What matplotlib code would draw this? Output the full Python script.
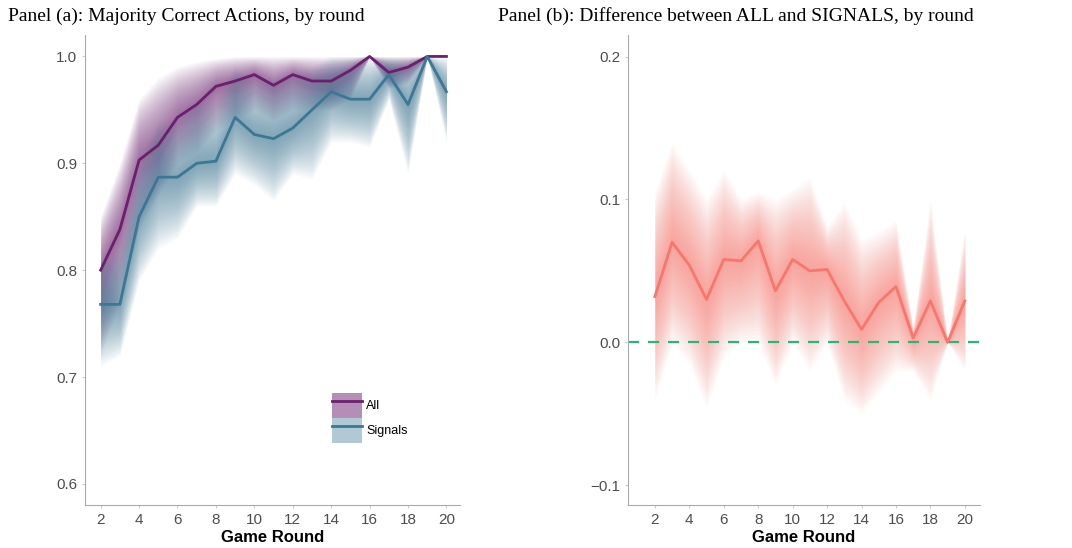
import numpy as np
import matplotlib.pyplot as plt
from matplotlib.patches import Patch
from matplotlib.lines import Line2D

rounds = list(range(2, 21))
all_mean = [0.800, 0.838, 0.903, 0.917, 0.943, 0.955, 0.972, 0.977, 0.983, 0.973,
            0.983, 0.977, 0.977, 0.987, 1.0, 0.985, 0.990, 1.0, 1.0]
all_hi = [0.85, 0.90, 0.96, 0.98, 0.99, 0.995, 0.998, 1.0, 1.0, 1.0,
          1.0, 1.0, 1.0, 1.0, 1.0, 1.0, 1.0, 1.0, 1.0]
all_lo = [0.72, 0.77, 0.84, 0.87, 0.90, 0.91, 0.93, 0.94, 0.95, 0.94,
          0.95, 0.95, 0.95, 0.96, 1.0, 0.97, 0.975, 1.0, 1.0]
sig_mean = [0.768, 0.768, 0.850, 0.887, 0.887, 0.900, 0.902, 0.943, 0.927, 0.923,
            0.933, 0.950, 0.967, 0.960, 0.960, 0.983, 0.955, 1.0, 0.967]
sig_hi = [0.81, 0.82, 0.90, 0.94, 0.94, 0.96, 0.96, 0.99, 0.98, 0.98,
          0.985, 0.99, 1.0, 1.0, 1.0, 1.0, 1.0, 1.0, 1.0]
sig_lo = [0.71, 0.72, 0.79, 0.82, 0.83, 0.86, 0.86, 0.89, 0.88, 0.865,
          0.89, 0.885, 0.92, 0.92, 0.915, 0.96, 0.89, 1.0, 0.92]
diff_mean = [0.032, 0.070, 0.054, 0.030, 0.058, 0.057, 0.071, 0.036, 0.058, 0.050,
             0.051, 0.029, 0.009, 0.028, 0.039, 0.003, 0.029, 0.0, 0.029]
diff_hi = [0.105, 0.14, 0.12, 0.10, 0.12, 0.10, 0.105, 0.10, 0.107, 0.115,
           0.08, 0.098, 0.072, 0.077, 0.085, 0.01, 0.10, 0.0, 0.08]
diff_lo = [-0.04, 0.0, -0.015, -0.045, -0.01, 0.0, 0.0, -0.03, 0.0, -0.02,
           0.0, -0.04, -0.05, -0.035, -0.02, -0.02, -0.04, 0.0, -0.02]

C_ALL = '#6b1f6e'
C_SIG = '#3b7895'
C_DIFF = '#f8766d'

plt.rcParams['font.family'] = ['Liberation Sans']


def fan(ax, x, mid, lo, hi, color):
    mid, lo, hi = np.array(mid), np.array(lo), np.array(hi)
    for f in np.linspace(1.0, 0.05, 25):
        ax.fill_between(x, mid - f * (mid - lo), mid + f * (hi - mid),
                        color=color, alpha=0.035, lw=0)


def style(ax):
    for s in ['top', 'right']:
        ax.spines[s].set_visible(False)
    for s in ['left', 'bottom']:
        ax.spines[s].set_color('#aaaaaa')
    ax.tick_params(colors='#cccccc', labelcolor='#4d4d4d', labelsize=11, length=2)
    ax.set_xticks(range(2, 21, 2))
    ax.set_xlabel('Game Round', fontsize=12, fontweight='bold', labelpad=2)


fig = plt.figure(figsize=(10.72, 5.48), dpi=100)
ax1 = fig.add_axes([0.079, 0.078, 0.350, 0.858])
ax2 = fig.add_axes([0.586, 0.078, 0.328, 0.858])

fan(ax1, rounds, all_mean, all_lo, all_hi, C_ALL)
fan(ax1, rounds, sig_mean, sig_lo, sig_hi, C_SIG)
ax1.plot(rounds, all_mean, color=C_ALL, lw=2.0)
ax1.plot(rounds, sig_mean, color=C_SIG, lw=2.0)
ax1.set_xlim(1.17, 20.7)
ax1.set_ylim(0.58, 1.02)
ax1.set_yticks([0.6, 0.7, 0.8, 0.9, 1.0])
style(ax1)
handles = [(Patch(color=C_ALL, alpha=0.5, lw=0), Line2D([], [], color=C_ALL, lw=2)),
           (Patch(color=C_SIG, alpha=0.4, lw=0), Line2D([], [], color=C_SIG, lw=2))]
ax1.legend(handles, ['All', 'Signals'], loc='lower left', bbox_to_anchor=(0.643, 0.12),
           frameon=False, fontsize=9, handlelength=2.4, handleheight=2.7,
           handletextpad=0.3, labelspacing=0.0, borderpad=0)
ax1.set_title('Panel (a): Majority Correct Actions, by round', fontsize=14,
              family='Liberation Serif', loc='left', x=-0.205, pad=10)

fan(ax2, rounds, diff_mean, diff_lo, diff_hi, C_DIFF)
ax2.axhline(0, color='#2bb673', lw=1.6, ls=(0, (5, 4)))
ax2.plot(rounds, diff_mean, color=C_DIFF, lw=2.0)
ax2.set_xlim(0.45, 20.87)
ax2.set_ylim(-0.114, 0.215)
ax2.set_yticks([-0.1, 0.0, 0.1, 0.2])
ax2.set_yticklabels(['\u22120.1', '0.0', '0.1', '0.2'])
style(ax2)
t = ax2.set_title('Panel (b): Difference between ALL and SIGNALS, by round', fontsize=14,
                  family='Liberation Serif', loc='left', x=-0.37, pad=10)

fig.savefig('out.png', dpi=100)
